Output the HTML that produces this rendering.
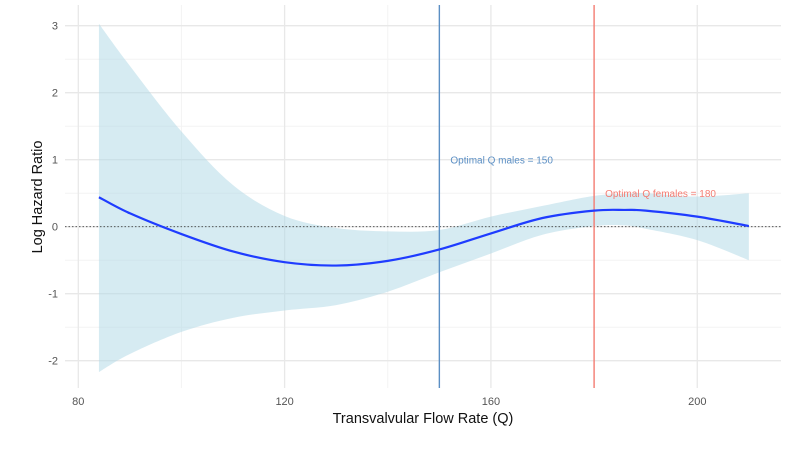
<!DOCTYPE html>
<html><head><meta charset="utf-8"><style>
body{margin:0;background:#fff;}
svg{display:block;font-family:"Liberation Sans",sans-serif;}
</style></head><body>
<svg id="chart" width="791" height="458"></svg>
<script>
const xs=[84,90,100,110,120,130,140,150,160,170,180,186,190,200,210];
const fit=[0.44,0.2,-0.11,-0.37,-0.53,-0.58,-0.51,-0.34,-0.1,0.13,0.24,0.25,0.24,0.15,0.01];
const upper=[3.03,2.4,1.42,0.62,0.16,-0.02,-0.07,-0.05,0.15,0.31,0.46,0.49,0.5,0.45,0.5];
const lower=[-2.17,-1.9,-1.57,-1.36,-1.25,-1.17,-0.97,-0.68,-0.4,-0.12,0.01,0.02,-0.03,-0.2,-0.5];
const xTicks=[80,120,160,200];
const xMinor=[100,140,180];
const yTicks=[-2,-1,0,1,2,3];
const yMinor=[-1.5,-0.5,0.5,1.5,2.5];
const vlines=[150,180];
const vlabels=["Optimal Q males = 150","Optimal Q females = 180"];
const vcolors=["#5b8fc4","#f47c72"];
const vlabelY=[1,0.5];

const NS="http://www.w3.org/2000/svg";
const svg=document.getElementById('chart');
const L=65,R=781,T=5,B=388;
const X=v=>78.3+(v-80)*5.158;
const Y=v=>226.7-v*67;
function el(tag,attrs,parent){const e=document.createElementNS(NS,tag);for(const k in attrs)e.setAttribute(k,attrs[k]);(parent||svg).appendChild(e);return e;}
function smooth(px,py){let d=`M${px[0]},${py[0]}`;for(let i=0;i<px.length-1;i++){const x0=px[i-1]??px[i],y0=py[i-1]??py[i],x1=px[i],y1=py[i],x2=px[i+1],y2=py[i+1],x3=px[i+2]??x2,y3=py[i+2]??y2;d+=` C${x1+(x2-x0)/6},${y1+(y2-y0)/6} ${x2-(x3-x1)/6},${y2-(y3-y1)/6} ${x2},${y2}`;}return d;}

const grid=el('g',{});

yMinor.forEach(v=>el('line',{x1:L,x2:R,y1:Y(v),y2:Y(v),stroke:'#f3f3f3','stroke-width':1},grid));
xMinor.forEach(v=>el('line',{x1:X(v),x2:X(v),y1:T,y2:B,stroke:'#f3f3f3','stroke-width':1},grid));
yTicks.forEach(v=>el('line',{x1:L,x2:R,y1:Y(v),y2:Y(v),stroke:'#e8e8e8','stroke-width':1.3},grid));
xTicks.forEach(v=>el('line',{x1:X(v),x2:X(v),y1:T,y2:B,stroke:'#e8e8e8','stroke-width':1.3},grid));

const ux=xs.map(X),uy=upper.map(Y),lx=xs.map(X).reverse(),ly=lower.map(Y).reverse();
let rd=smooth(ux,uy)+' L'+lx[0]+','+ly[0]+smooth(lx,ly).replace(/^M[^ ]+/,'')+' Z';
const rib=el('path',{d:rd,fill:'#add8e6','fill-opacity':0.5});


const zl=el('line',{x1:L,x2:R,y1:Y(0),y2:Y(0),stroke:'#444','stroke-width':0.9,'stroke-dasharray':'1.5,2'});


vlines.forEach((v,i)=>{
 const ln=el('line',{x1:X(v),x2:X(v),y1:T,y2:B,stroke:vcolors[i],'stroke-width':1.4});
 
 const t=el('text',{x:X(v)+11,y:Y(vlabelY[i])+4,fill:vcolors[i],'font-size':10});
 t.textContent=vlabels[i];
 
});

const fl=el('path',{d:smooth(xs.map(X),fit.map(Y)),fill:'none',stroke:'#1f3cff','stroke-width':2.2});


yTicks.forEach(v=>{const t=el('text',{x:58,y:Y(v)+4,'text-anchor':'end',fill:'#555','font-size':11});t.textContent=v;
 });
xTicks.forEach(v=>{const t=el('text',{x:X(v),y:405,'text-anchor':'middle',fill:'#555','font-size':11});t.textContent=v;
 });

const xt=el('text',{x:423,y:423,'text-anchor':'middle',fill:'#111','font-size':14.5});
xt.textContent='Transvalvular Flow Rate (Q)';

const yt=el('text',{x:0,y:0,transform:`translate(42,197) rotate(-90)`,'text-anchor':'middle',fill:'#111','font-size':14.5});
yt.textContent='Log Hazard Ratio';

</script>
</body></html>
